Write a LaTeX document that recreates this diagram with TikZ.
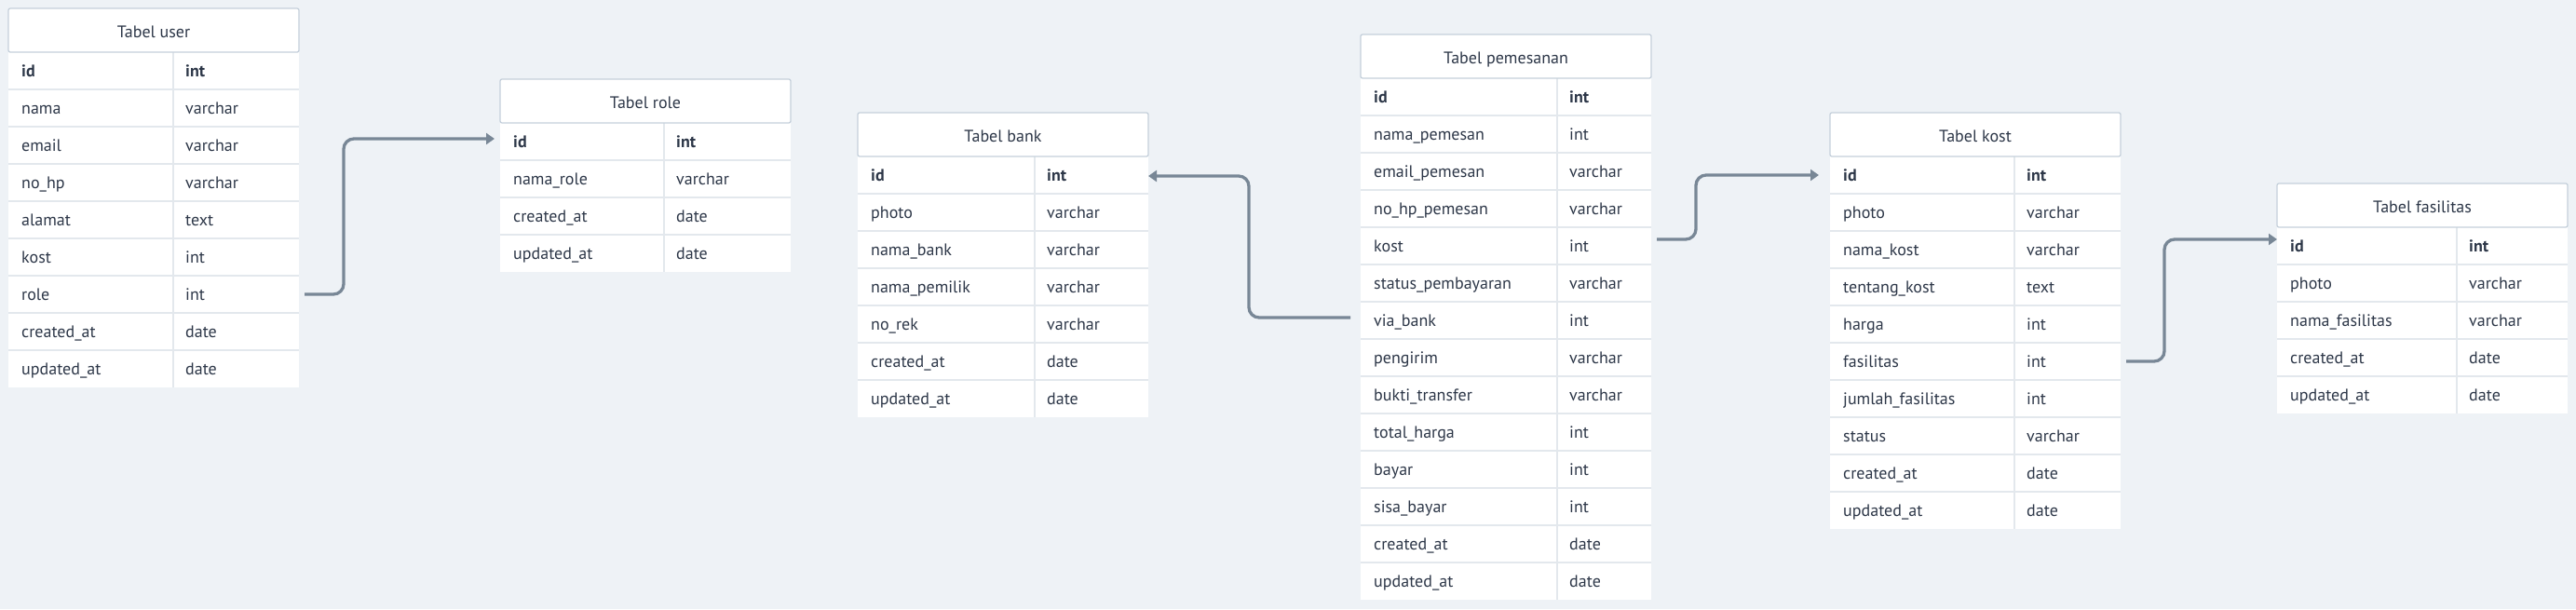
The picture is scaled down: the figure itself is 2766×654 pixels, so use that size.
\documentclass[tikz,border=0pt]{standalone}
\usepackage{fontspec}
\setmainfont{PT Sans}
\usetikzlibrary{arrows.meta,calc}
\definecolor{bg}{HTML}{EEF2F6}
\definecolor{hdrline}{HTML}{C5D0DB}
\definecolor{sepc}{HTML}{E3E8ED}
\definecolor{txt}{HTML}{2D3748}
\definecolor{linkc}{HTML}{788796}

\newcommand{\dbtable}[6]{%
  % #1 name, #2 left x, #3 top y (down), #4 divider offset, #5 title, #6 rows
  \foreach \f/\t [count=\k] in {#6} {%
    \pgfmathsetmacro\yy{-(#3+47+(\k-1)*40)}%
    \node[rowbox, anchor=north west] (#1-\k) at (#2,\yy) {};
    \ifnum\k>1 \draw[sepline] (#1-\k.north west) -- (#1-\k.north east);\fi
    \node[cell] at ($(#1-\k.north west)+(14,-26)$) {\ifnum\k=1 \bfseries\fi\f};
    \node[cell] at ($(#1-\k.north west)+(#4+13,-26)$) {\ifnum\k=1 \bfseries\fi\t};
    \xdef\lastk{\k}%
  }
  \draw[sepline] ($(#1-1.north west)+(#4,0)$) -- ($(#1-\lastk.south west)+(#4,0)$);
  \node[hdr, anchor=north west] (#1-h) at (#2,-#3) {#5};
}

\begin{document}
\begin{tikzpicture}[x=1pt,y=1pt,
  hdr/.style={draw=hdrline, line width=1.3pt, fill=white, rounded corners=2pt,
    minimum width=312pt, minimum height=47pt, inner sep=0pt, outer sep=0pt,
    text height=16pt, text depth=0pt, font=\fontsize{18}{20}\selectfont, text=txt},
  rowbox/.style={fill=white, minimum width=312pt, minimum height=40pt,
    inner sep=0pt, outer sep=0pt},
  sepline/.style={draw=sepc, line width=2pt},
  cell/.style={anchor=base west, inner sep=0pt, font=\fontsize{18}{20}\selectfont, text=txt},
  link/.style={draw=linkc, line width=3.3pt, rounded corners=11pt,
    -{Triangle[length=9pt,width=12pt]}},
]
\fill[bg] (0,0) rectangle (2766,-654);
\useasboundingbox (0,0) rectangle (2766,-654);

\dbtable{user}{9}{9}{177}{Tabel user}{id/int, nama/varchar, email/varchar, no\_hp/varchar, alamat/text, kost/int, role/int, created\_at/date, updated\_at/date}
\dbtable{role}{537}{85}{176}{Tabel role}{id/int, nama\_role/varchar, created\_at/date, updated\_at/date}
\dbtable{bank}{921}{121}{190}{Tabel bank}{id/int, photo/varchar, nama\_bank/varchar, nama\_pemilik/varchar, no\_rek/varchar, created\_at/date, updated\_at/date}
\dbtable{pem}{1461}{37}{211}{Tabel pemesanan}{id/int, nama\_pemesan/int, email\_pemesan/varchar, no\_hp\_pemesan/varchar, kost/int, status\_pembayaran/varchar, via\_bank/int, pengirim/varchar, bukti\_transfer/varchar, total\_harga/int, bayar/int, sisa\_bayar/int, created\_at/date, updated\_at/date}
\dbtable{kost}{1965}{121}{198}{Tabel kost}{id/int, photo/varchar, nama\_kost/varchar, tentang\_kost/text, harga/int, fasilitas/int, jumlah\_fasilitas/int, status/varchar, created\_at/date, updated\_at/date}
\dbtable{fas}{2445}{197}{193}{Tabel fasilitas}{id/int, photo/varchar, nama\_fasilitas/varchar, created\_at/date, updated\_at/date}

\draw[link] ([xshift=6pt]user-7.east) -- ++(42,0) |- ([xshift=-6pt,yshift=3pt]role-1.west);
\draw[link] ([xshift=-11pt,yshift=3pt]pem-7.west) -- ++(-109,0) |- ([yshift=-1pt]bank-1.east);
\draw[link] ([xshift=6pt,yshift=7pt]pem-5.east) -- ++(42,0) |- ([xshift=-12pt]kost-1.west);
\draw[link] ([xshift=6pt]kost-6.east) -- ++(41,0) |- ([yshift=7pt]fas-1.west);
\end{tikzpicture}
\end{document}
